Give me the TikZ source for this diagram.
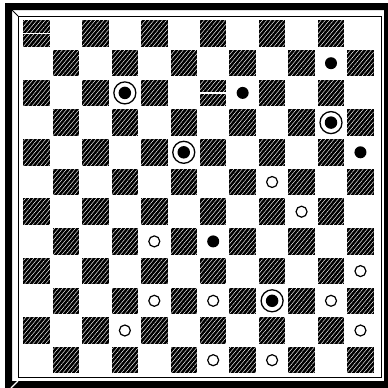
\documentclass[tikz,border=0pt]{standalone}
\usetikzlibrary{patterns.meta}
\tikzset{
  darksq/.style={rectangle, minimum size=26.5pt, inner sep=0pt, fill=black,
    postaction={pattern={Lines[angle=50,distance=3.2pt,line width=0.45pt]}, pattern color=white}},
  bdot/.style={circle, fill=black, minimum size=12pt, inner sep=0pt},
  ringb/.style={circle, draw=black, line width=1.3pt, minimum size=22pt, inner sep=0pt, fill=white},
  wcirc/.style={circle, draw=black, line width=1.2pt, minimum size=11pt, inner sep=0pt, fill=white},
  seam/.style={white, line width=1.6pt}
}
\begin{document}
\begin{tikzpicture}[x=1pt,y=-1pt]
\useasboundingbox (0,0) rectangle (388,388);
\fill[white] (0,0) rectangle (388,388);
% frame
\fill[black,even odd rule] (5,3) rectangle (388,388) (12,10) rectangle (384,381);
\draw[line width=0.9pt] (18,16) rectangle (381,377);
\draw[line width=1pt] (12,10) -- (18,16);
\draw[white,line width=1.2pt] (11,388) -- (18,381);
% dark squares
\foreach \r in {0,...,11} {
  \foreach \c in {0,...,11} {
    \pgfmathtruncatemacro\s{mod(\r+\c,2)}
    \ifnum\s=0
      \node[darksq] (s-\r-\c) at ({36.5+29.45*\c},{33.5+29.7*\r}) {};
    \fi
  }
}
% split squares
\draw[seam] (s-0-0.west) -- (s-0-0.east);
\draw[seam] (s-2-6.west) -- (s-2-6.east);
% black men
\foreach \r/\c in {1/10, 2/7, 4/11, 7/6} {
  \node[bdot] (b-\r-\c) at ({36.5+29.45*\c},{33.5+29.7*\r}) {};
}
% ringed black men
\foreach \r/\c in {2/3, 3/10, 4/5, 9/8} {
  \node[ringb] (k-\r-\c) at ({36.5+29.45*\c},{33.5+29.7*\r}) {};
  \node[bdot, minimum size=12.5pt] (kd-\r-\c) at (k-\r-\c) {};
}
% white men
\foreach \r/\c in {5/8, 6/9, 7/4, 8/11, 9/4, 9/6, 9/10, 10/3, 10/11, 11/6, 11/8} {
  \node[wcirc] (w-\r-\c) at ({36.5+29.45*\c},{33.5+29.7*\r}) {};
}
\end{tikzpicture}
\end{document}
